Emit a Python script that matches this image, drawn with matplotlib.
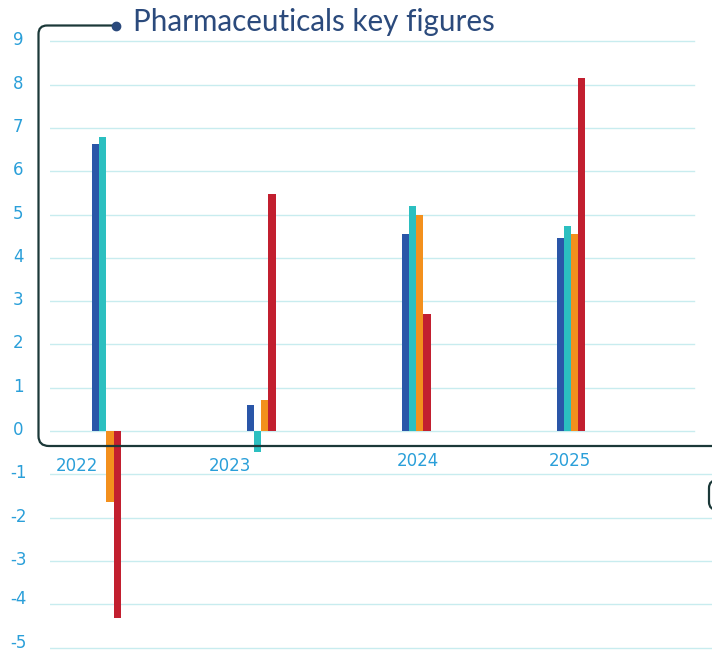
import numpy as np
import matplotlib.pyplot as plt
from matplotlib.path import Path
from matplotlib.patches import PathPatch
from matplotlib.lines import Line2D
import matplotlib.transforms as mtransforms

years = ['2022', '2023', '2024', '2025']
series_blue = [6.63, 0.60, 4.55, 4.45]
series_teal = [6.79, -0.49, 5.20, 4.73]
series_orange = [-1.64, 0.72, 5.00, 4.55]
series_red = [-4.33, 5.47, 2.70, 8.15]
y_ticks = list(range(-5, 10))

colors = ['#2a56a8', '#2bbfc0', '#f3901d', '#c21f2f']
tick_color = '#2a9fd9'
grid_color = '#c8ecef'
frame_color = '#1b3838'
title_color = '#2b4a7c'

W, H = 712, 651
fig = plt.figure(figsize=(W / 100, H / 100), dpi=100)


def fx(x, y):
    # image pixel -> figure fraction
    return (x / W, 1 - y / H)


# axes: left edge at px 50, zero at px 431, 43.3 px per unit
y_top, y_bot = 9.2, -5.05
ax_top = 431 - 43.3 * y_top
ax_bot = 431 - 43.3 * y_bot
ax = fig.add_axes([50 / W, 1 - ax_bot / H, 1 - 50 / W, (ax_bot - ax_top) / H])
ax.set_ylim(y_bot, y_top)
ax.set_xlim(-0.364, -0.364 + 662 / 154.9)

x = np.arange(len(years))
width = 0.0465
series = [series_blue, series_teal, series_orange, series_red]
for k, (vals, c) in enumerate(zip(series, colors)):
    ax.bar(x + (k - 1.5) * width, vals, width, color=c, zorder=3)

# gridlines, upper ones stop short of the right edge
gtrans = ax.get_yaxis_transform()
for v in y_ticks:
    ax.plot([0, 0.973 if v >= 0 else 1.0], [v, v], transform=gtrans,
            color=grid_color, lw=1.0, zorder=1)

ax.set_yticks(y_ticks)
ax.set_yticklabels([str(v) for v in y_ticks])
ax.tick_params(axis='y', length=0, pad=23, labelsize=12, labelcolor=tick_color)
for v, lab in zip(y_ticks, ax.get_yticklabels()):
    lift = 7 if v <= -4 else 3
    off = mtransforms.ScaledTranslation(0, lift / 100, fig.dpi_scale_trans)
    lab.set_horizontalalignment('center')
    lab.set_transform(lab.get_transform() + off)
ax.set_xticks([])
for s in ax.spines.values():
    s.set_visible(False)

# year labels (not centred under the groups in the original)
label_dx = [-0.19, -0.2, 0.01, -0.01]
label_y = [-0.8, -0.81, -0.69, -0.69]
for i, yr in enumerate(years):
    ax.text(i + label_dx[i], label_y[i], yr, ha='center', va='center',
            fontsize=12, color=tick_color)

# frame line with rounded corners
verts = [fx(116, 25.5), fx(47, 25.5), fx(38.5, 25.5), fx(38.5, 34),
         fx(38.5, 436), fx(38.5, 446), fx(49, 446), fx(720, 446)]
codes = [Path.MOVETO, Path.LINETO, Path.CURVE3, Path.CURVE3,
         Path.LINETO, Path.CURVE3, Path.CURVE3, Path.LINETO]
fig.add_artist(PathPatch(Path(verts, codes), transform=fig.transFigure,
                         fill=False, edgecolor=frame_color, lw=1.6))
fig.add_artist(Line2D([116 / W], [1 - 26 / H], marker='o', markersize=6,
                      color=title_color, transform=fig.transFigure))

# partial box at the right edge
verts2 = [fx(718, 480), fx(709, 480), fx(709, 488), fx(709, 502),
          fx(709, 510), fx(718, 510)]
codes2 = [Path.MOVETO, Path.CURVE3, Path.CURVE3, Path.LINETO,
          Path.CURVE3, Path.CURVE3]
fig.add_artist(PathPatch(Path(verts2, codes2), transform=fig.transFigure,
                         fill=False, edgecolor=frame_color, lw=1.6))

fig.text(133 / W, 1 - 22 / H, 'Pharmaceuticals key figures', ha='left',
         va='center', fontsize=21.3, color=title_color, family='Lato')

fig.savefig('out.png', dpi=100)
